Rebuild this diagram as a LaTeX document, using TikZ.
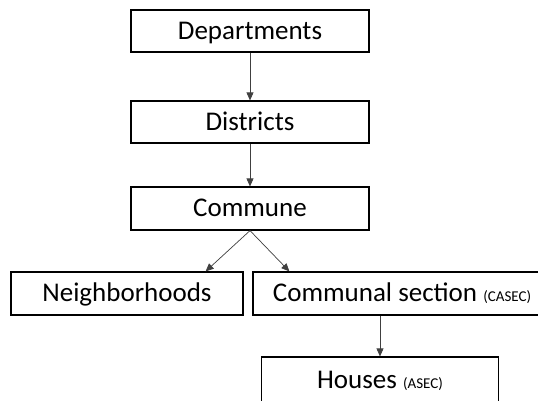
\documentclass[tikz,border=0pt]{standalone}
\usepackage{fontspec}
\setmainfont{Carlito}
\usetikzlibrary{arrows.meta}
\begin{document}
\begin{tikzpicture}[x=1pt,y=-1pt,
  box/.style={draw=black, line width=1.2pt, fill=white, inner sep=0pt,
    text height=20pt, text depth=4pt,
    font=\fontsize{27}{30}\selectfont, text=black},
  link/.style={draw=black!75, line width=0.7pt,
    -{Triangle[length=8pt,width=7pt]}}]
\newcommand{\abbr}[1]{{\fontsize{15}{17}\selectfont(#1)}}
\clip (0,0) rectangle (538,400);
\fill[white] (0,0) rectangle (538,400);
% stack of administrative levels
\node[box, minimum width=238pt, minimum height=42pt] (dep) at (250,31) {Departments};
\node[box, minimum width=238pt, minimum height=42pt] (dis) at (250,122) {Districts};
\node[box, minimum width=238pt, minimum height=43pt] (com) at (250,208.5) {Commune};
\node[box, minimum width=232pt, minimum height=43pt] (nbh) at (127,293.5) {Neighborhoods};
\node[box, minimum width=298pt, minimum height=43pt] (sec) at (402,293.5) {Communal section \abbr{CASEC}};
\node[box, minimum width=237pt, minimum height=46pt] (hou) at (380,380) {Houses \abbr{ASEC}};
% connectors
\draw[link] (dep.south) -- (dis.north);
\draw[link] (dis.south) -- (com.north);
\draw[link] (com.south) -- ([xshift=-38pt]nbh.north east);
\draw[link] (com.south) -- ([xshift=37pt]sec.north west);
\draw[link] (sec.south -| hou.north) -- (hou.north);
\end{tikzpicture}
\end{document}
